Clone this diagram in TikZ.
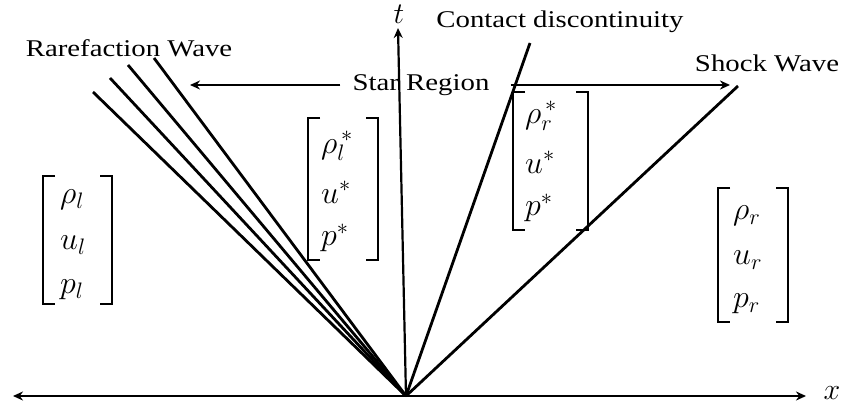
\RequirePackage{fix-cm}
\documentclass[tikz,border=0pt]{standalone}
\usepackage{fontspec}
\setmainfont{Liberation Serif}[FakeStretch=1.2]
\usetikzlibrary{arrows.meta}
\newcommand\brkpair[4]{%
  \draw[brk] (#1+12,#2) -- (#1,#2) -- (#1,#4) -- (#1+12,#4);
  \draw[brk] (#3-12,#2) -- (#3,#2) -- (#3,#4) -- (#3-12,#4);}
\begin{document}
\begin{tikzpicture}[x=1pt,y=-1pt,
  wave/.style={line width=2.8pt},
  taxis/.style={line width=2.2pt,-{Stealth[length=10pt,width=9pt]}},
  xaxis/.style={line width=1.8pt,{Stealth[length=10pt,width=9pt]}-{Stealth[length=10pt,width=9pt]}},
  sarr/.style={line width=1.8pt,-{Stealth[length=10pt,width=9pt]}},
  lbl/.style={font=\fontsize{24}{28}\selectfont,inner sep=0pt},
  ent/.style={font=\fontsize{32}{36}\selectfont,inner sep=0pt,anchor=west},
  brk/.style={line width=1.1pt}]
\useasboundingbox (0,0) rectangle (845,406);
% axes
\coordinate (O) at (406,396);
\coordinate (xl) at (13,396);
\coordinate (xr) at (806,396);
\coordinate (tt) at (398,28);
\draw[xaxis] (xl) -- (xr);
\draw[taxis] (O) -- (tt);
\node[lbl,font=\fontsize{30}{32}\selectfont] (xlab) at (832,393) {$x$};
\node[lbl,font=\fontsize{30}{32}\selectfont] (tlab) at (399,14) {$t$};
% rarefaction fan
\coordinate (r1) at (93,92);
\coordinate (r2) at (110,78);
\coordinate (r3) at (128,65);
\coordinate (r4) at (154,58);
\foreach \r in {r1,r2,r3,r4} \draw[wave] (O) -- (\r);
% contact and shock
\coordinate (cd) at (530,43);
\coordinate (sw) at (738,86);
\draw[wave] (O) -- (cd);
\draw[wave] (O) -- (sw);
% labels
\node[lbl] (rw) at (129,48) {Rarefaction Wave};
\node[lbl] (cdl) at (560,22) {Contact discontinuity};
\node[lbl] (swl) at (767,63) {Shock Wave};
\node[lbl] (star) at (421,85) {Star Region};
\coordinate (la) at (190,85);
\coordinate (ra) at (730,85);
\draw[sarr] ([xshift=-12pt]star.west) -- (la);
\draw[sarr] ([xshift=21pt]star.east) -- (ra);
% matrices
\brkpair{43}{176}{112}{304}
\node[ent] (rl) at (60,200) {$\rho_l$};
\node[ent] (ul) at (60,245) {$u_l$};
\node[ent] (pl) at (60,290) {$p_l$};
\brkpair{308}{118}{378}{260}
\node[ent] (rls) at (321,146) {$\rho_l^{\,*}$};
\node[ent] (us1) at (321,192) {$u^*$};
\node[ent] (ps1) at (321,238) {$p^*$};
\brkpair{513}{92}{588}{230}
\node[ent] (rrs) at (525,116) {$\rho_r^{\,*}$};
\node[ent] (us2) at (525,162) {$u^*$};
\node[ent] (ps2) at (525,208) {$p^*$};
\brkpair{718}{188}{788}{322}
\node[ent] (rr) at (733,216) {$\rho_r$};
\node[ent] (ur) at (733,260) {$u_r$};
\node[ent] (pr) at (733,304) {$p_r$};
\end{tikzpicture}
\end{document}
